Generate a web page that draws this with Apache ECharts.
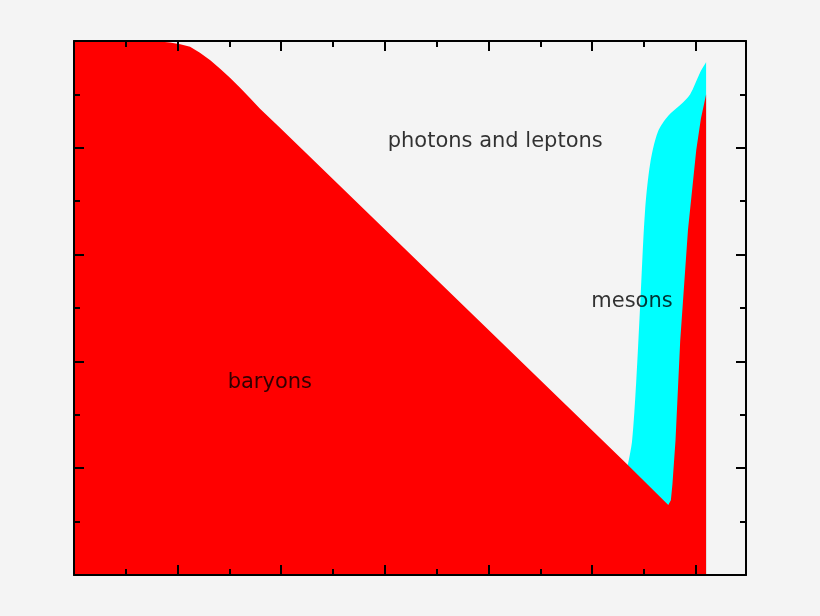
<!DOCTYPE html>
<html><head><meta charset="utf-8">
<script src="https://cdn.jsdelivr.net/npm/echarts@6/dist/echarts.min.js"></script>
<style>html,body{margin:0;padding:0;background:#f4f4f4}#c{width:820px;height:616px}</style>
</head><body><div id="c"></div>
<script>
const baryonX = [0,1.47,1.66,1.85,2.05,2.24,2.43,2.63,2.82,3.01,3.21,3.40,3.59,3.98,10.69,11.47,11.52,11.55,11.61,11.70,11.85,12.01,12.10,12.20,12.20];
const baryonY = [10,10,9.99,9.97,9.94,9.89,9.78,9.64,9.48,9.31,9.12,8.93,8.73,8.37,2.06,1.31,1.40,1.70,2.53,4.38,6.46,7.96,8.55,9.0,0];
const mesonX = [10.69,10.77,10.85,10.93,11.02,11.12,11.27,11.47,11.70,11.89,12.08,12.20,12.20];
const mesonY = [2.06,2.5,3.6,5.1,6.8,7.7,8.3,8.6,8.8,9.0,9.4,9.6,0];
const labels = [["photons and leptons",8.13,8.12],["mesons",10.77,5.13],["baryons",3.78,3.61]];
const XMAX = 12.97, YMAX = 10;
const zip=(a,b)=>a.map((v,i)=>[v,b[i]]);
function ax(pos, max){
  return {type:'value', position:pos, min:0, max:max, interval:2, z:10,
    axisLine:{show:true,onZero:false,lineStyle:{color:'#000',width:2}},
    axisTick:{show:true,inside:true,length:10,lineStyle:{color:'#000',width:2}},
    minorTick:{show:true,splitNumber:2,length:6,lineStyle:{color:'#000',width:2}},
    axisLabel:{show:false}, splitLine:{show:false}, minorSplitLine:{show:false}};
}
const chart = echarts.init(document.getElementById('c'));
chart.setOption({
  backgroundColor:'#f4f4f4', animation:false,
  grid:{left:74,right:74,top:41,bottom:41},
  xAxis:[ax('bottom',XMAX),ax('top',XMAX)],
  yAxis:[ax('left',YMAX),ax('right',YMAX)],
  series:[
    {type:'line',data:zip(mesonX,mesonY),showSymbol:false,smooth:0.3,lineStyle:{width:0},areaStyle:{color:'#00ffff',opacity:1},z:2},
    {type:'line',data:zip(baryonX,baryonY),showSymbol:false,lineStyle:{width:0},areaStyle:{color:'#ff0000',opacity:1},z:3},
    {type:'scatter',symbolSize:0,z:5,itemStyle:{color:'rgba(0,0,0,0)'},data:labels.map(l=>({value:[l[1],l[2]],name:l[0]})),
     label:{show:true,position:'inside',formatter:p=>p.name,color:'#000',fontSize:21,fontFamily:'DejaVu Sans'}}
  ]
});
</script></body></html>
